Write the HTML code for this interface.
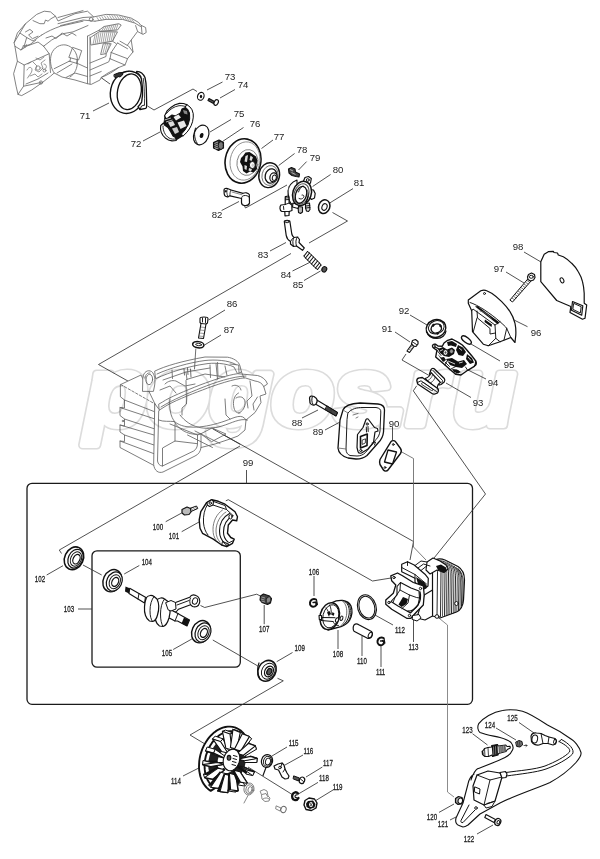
<!DOCTYPE html>
<html><head><meta charset="utf-8"><title>Parts diagram</title>
<style>
html,body{margin:0;padding:0;background:#fff;}
svg{display:block}
.t{font-family:"Liberation Sans",sans-serif;font-size:9.6px;fill:#222;text-anchor:middle}
.c{font-family:"Liberation Sans",sans-serif;font-size:8.8px;fill:#222;text-anchor:middle;stroke:#222;stroke-width:.3px}
.l{stroke:#333;stroke-width:.85;fill:none}
.p{stroke:#111;stroke-width:1.15;fill:#fff;stroke-linejoin:round;stroke-linecap:round}
.pn{stroke:#111;stroke-width:.95;fill:none;stroke-linejoin:round;stroke-linecap:round}
.g{stroke:#666;stroke-width:.85;fill:none;stroke-linejoin:round;stroke-linecap:round}
.gw{stroke:#666;stroke-width:.85;fill:#fff;stroke-linejoin:round;stroke-linecap:round}
.h{stroke:#6c6c6c;stroke-width:.85;fill:none;stroke-linejoin:round;stroke-linecap:round}
.hw{stroke:#6c6c6c;stroke-width:.85;fill:#fff;stroke-linejoin:round;stroke-linecap:round}
.k{fill:#111;stroke:none}
</style></head><body>
<svg width="600" height="859" viewBox="0 0 600 859">
<rect width="600" height="859" fill="#fff"/>
<!--WATERMARK-->
<!--FRAMES-->
<rect x="27" y="483.300" width="445.500" height="221" rx="5" class="l" style="stroke:#1a1a1a;stroke-width:1.300"/>
<rect x="92" y="550.800" width="148.300" height="116.400" rx="5" class="l" style="stroke:#1a1a1a;stroke-width:1.300"/>
<!--LINES-->
<g class="l" id="lines">
<path d="M94 72.5L110 84"/>
<path d="M93 111L109 103"/>
<path d="M147.5 106L154 110L193 89L197 91.5"/>
<path d="M143 141L160 132"/>
<path d="M222.5 82L207 90"/>
<path d="M235 89.5L220 98"/>
<path d="M231 119.5L210 132"/>
<path d="M243.5 127.5L222.5 141.5"/>
<path d="M273 140L261.500 148.500"/>
<path d="M294.600 153.500L278.700 165.500"/>
<path d="M306.600 161.600L298.500 170"/>
<path d="M330.600 174.500L312.600 186.500"/>
<path d="M353 188.600L329.700 203"/>
<path d="M221.600 210.500L239 201.500"/>
<path d="M244 205L245.500 208L287 185"/>
<path d="M332.500 212.500L347.500 221L309 243"/>
<path d="M270 251L286 242.500"/>
<path d="M292.500 271L309.500 262.500"/>
<path d="M304 280.500L320.500 271"/>
<path d="M291 253.500L98.500 364.500L413.500 541.500L410 560"/>
</g>
<g class="l" id="lines2">
<path d="M225 310L208.500 320"/>
<path d="M221 335L204.500 345"/>
<path d="M302 418L318 410"/>
<path d="M325 430L340 422"/>
<path d="M392.500 427L392.500 440"/>
<path d="M400 451L413.500 458.500L413.500 547L426 560" style="stroke:#666"/>
<path d="M395 332L410 342"/>
<path d="M410 315L427 325"/>
<path d="M406 354L402 360L430 376"/>
<path d="M416.700 385.800L413.300 390.800L485.500 494L430 563"/>
<path d="M471 397.500L446 383"/>
<path d="M486 379L468 370"/>
<path d="M500 361L471 344"/>
<path d="M527.500 326.700L514 320"/>
<path d="M506 272L524 283"/>
<path d="M524 252L541 262"/>
<path d="M246.500 470L246.500 483.500"/>
<path d="M61.500 553.500L59.300 550L240 446"/>
<path d="M46.700 575L63 565.700"/>
<path d="M83 565L101.700 575"/>
<path d="M139.300 565.500L124.200 574"/>
<path d="M165.700 521.700L181.700 513"/>
<path d="M181.700 531.700L199 522"/>
<path d="M69 609L92 609" style="stroke:none"/>
<path d="M78 609L92 609"/>
<path d="M225.800 500.800L228.300 499.700L372.500 581L391 578"/>
<path d="M200.500 605.500L204.700 607.500L256.700 594.200L260 595.800"/>
<path d="M264.200 605L264.200 624.200"/>
<path d="M173.200 649.500L191.800 639"/>
<path d="M212.800 640L257.500 665.800"/>
<path d="M292.500 652.500L276.700 661.700"/>
<path d="M277.500 678.300L283.300 680.800L190 735L205 744"/>
<path d="M314 576L314 596"/>
<path d="M338 630L338 649"/>
<path d="M362 636L362 656"/>
<path d="M381 646L381 667"/>
<path d="M375 615L393 625"/>
<path d="M413.500 620L413.500 642"/>
<path d="M183 776L200 767.400"/>
<path d="M248 767L293 795"/>
<path d="M287 747L272 756"/>
<path d="M303 755L285 765"/>
<path d="M322.400 767L306 777"/>
<path d="M318 782.400L299 793.600"/>
<path d="M333 790L315 801"/>
<path d="M437 616.500L447.500 625L447.500 792L454 797" style="stroke:#777"/>
<path d="M439 812.400L454 804"/>
<path d="M450 820L456 817"/>
<path d="M477 834L493 825"/>
<path d="M472.500 733.700L487.500 745"/>
<path d="M496 728L516 740"/>
<path d="M519 722.500L535 733.700"/>
</g>
<!--LABELS-->
<g class="c" id="labels2">
<text x="158" y="530.500" transform="translate(158 0) scale(.7 1) translate(-158 0)">100</text>
<text x="174" y="539.500" transform="translate(174 0) scale(.7 1) translate(-174 0)">101</text>
<text x="40" y="582" transform="translate(40 0) scale(.7 1) translate(-40 0)">102</text>
<text x="69" y="612.500" transform="translate(69 0) scale(.7 1) translate(-69 0)">103</text>
<text x="146.800" y="565" transform="translate(146.8 0) scale(.7 1) translate(-146.8 0)">104</text>
<text x="167" y="656.500" transform="translate(167 0) scale(.7 1) translate(-167 0)">105</text>
<text x="314" y="575.500" transform="translate(314 0) scale(.7 1) translate(-314 0)">106</text>
<text x="264.200" y="632.500" transform="translate(264.2 0) scale(.7 1) translate(-264.2 0)">107</text>
<text x="338" y="657" transform="translate(338 0) scale(.7 1) translate(-338 0)">108</text>
<text x="299.700" y="651.500" transform="translate(299.7 0) scale(.7 1) translate(-299.7 0)">109</text>
<text x="362" y="664" transform="translate(362 0) scale(.7 1) translate(-362 0)">110</text>
<text x="380.600" y="675" transform="translate(380.6 0) scale(.7 1) translate(-380.6 0)">111</text>
<text x="400" y="633" transform="translate(400 0) scale(.7 1) translate(-400 0)">112</text>
<text x="413.500" y="650.500" transform="translate(413.5 0) scale(.7 1) translate(-413.5 0)">113</text>
<text x="176" y="784" transform="translate(176 0) scale(.7 1) translate(-176 0)">114</text>
<text x="293.600" y="746.500" transform="translate(293.6 0) scale(.7 1) translate(-293.6 0)">115</text>
<text x="308.400" y="754.500" transform="translate(308.4 0) scale(.7 1) translate(-308.4 0)">116</text>
<text x="328" y="766" transform="translate(328 0) scale(.7 1) translate(-328 0)">117</text>
<text x="324" y="781.500" transform="translate(324 0) scale(.7 1) translate(-324 0)">118</text>
<text x="337.600" y="790" transform="translate(337.6 0) scale(.7 1) translate(-337.6 0)">119</text>
<text x="432" y="820.500" transform="translate(432 0) scale(.7 1) translate(-432 0)">120</text>
<text x="443" y="827.500" transform="translate(443 0) scale(.7 1) translate(-443 0)">121</text>
<text x="469" y="842.500" transform="translate(469 0) scale(.7 1) translate(-469 0)">122</text>
<text x="467.500" y="733" transform="translate(467.5 0) scale(.7 1) translate(-467.5 0)">123</text>
<text x="490" y="728" transform="translate(490 0) scale(.7 1) translate(-490 0)">124</text>
<text x="512.500" y="721.500" transform="translate(512.5 0) scale(.7 1) translate(-512.5 0)">125</text>
</g>

<g class="t" id="labels" transform="translate(1 -1)">
<text x="84" y="120">71</text>
<text x="135" y="148">72</text>
<text x="229" y="81">73</text>
<text x="242" y="89">74</text>
<text x="238" y="118">75</text>
<text x="254" y="128">76</text>
<text x="278" y="141">77</text>
<text x="301" y="154">78</text>
<text x="314" y="162">79</text>
<text x="337" y="174">80</text>
<text x="358" y="187">81</text>
<text x="216" y="219">82</text>
<text x="262" y="259">83</text>
<text x="285" y="279">84</text>
<text x="297" y="289">85</text>
<text x="231" y="308">86</text>
<text x="228" y="334">87</text>
<text x="296" y="427">88</text>
<text x="317" y="436">89</text>
<text x="393" y="428">90</text>
<text x="386" y="333">91</text>
<text x="403" y="315">92</text>
<text x="477" y="407">93</text>
<text x="492" y="387">94</text>
<text x="508" y="369">95</text>
<text x="535" y="337">96</text>
<text x="498" y="273">97</text>
<text x="517" y="251">98</text>
<text x="247" y="467">99</text>
</g>
<!--PARTS-->
<!--BODY-->
<g id="body" class="h">
<path class="hw" d="M14.200 42.500L17.400 33L25.500 23.700L36.700 14.400L44.200 11.200L50.500 11.900L55.500 16.200L58 21L75 13.700L87.500 11.200L93.700 16.900L106.200 14.400L118.700 15L131.200 18.100L138.700 22.500L140.500 25L145.600 27.500L146.200 32.500L143 34.400L137.500 31.500L131.200 40L133 51.900L127.500 58.700L125 65L118.700 67.500L108 73L101.200 77.500L100 80L91.200 84.400L87.500 83.700L75 80L62 77L54.200 73L50.500 76.200L42.400 82.500L31.700 90L21.700 95.600L18 94.400L16.100 86.200L13.600 73.700L17.400 61.200L14.900 46.200Z"/>
<!-- hood -->
<path d="M33 20.600L39.900 23.700L44.200 23.700L45.500 20L48 21.200L51 18.700L55.500 16.200"/>
<path d="M14.200 42.500L19.900 33L26.700 37.500L24.200 46.200L21 50L14.900 46.200"/>
<path d="M19.900 33L25.500 23.700M25.500 31.900L29.900 29.400L33 31.900L28.600 35L32.400 38.700L38 36.200"/>
<path d="M26.700 37.500L33 41L41.700 35"/>
<path d="M21 50L27 46L38 42L43.600 46.200"/>
<path d="M24.200 46.200L30 44.500L36 40"/>
<path d="M22 48.500L23.500 45L25 47.500L26.500 44.500" stroke-width=".6"/>
<!-- handle -->
<path d="M58 17.500L83 10.600M58 23.700L83 17.500L93.700 16.900M60.500 25.600L83 20L95 21.200"/>
<path d="M41.700 35C46 32 55 28 60.500 26.200L83 21.200"/>
<path d="M43.600 46.200L51.700 40L63 33.700L73 31.900L88 25.500"/>
<path d="M46 38L52 36L56 38.500L62 33"/>
<path d="M63 33.700L67 36L72 33L76 35.500"/>
<circle cx="91.200" cy="19.400" r="1.900"/>
<!-- top cover -->
<path d="M95 21.200L106.200 19.400L122.500 19.400L135 23.100L140.500 26.500"/>
<g stroke-width=".6">
<path d="M97 17.500L99 20.500M99.500 17L101.500 20M102 16.600L104 19.600M104.500 16.200L106.500 19.200M107 15.900L109 18.900M109.500 15.700L111.500 18.700M112 15.600L114 18.600M114.500 15.600L116.500 18.600M117 15.700L119 18.700M119.500 16L121.500 19M122 16.500L124 19.500M124.500 17L126.500 20M127 17.800L129 20.800M129.500 18.600L131.500 21.600M132 19.500L134 22.500"/>
</g>
<!-- grilles -->
<path d="M99.400 30L104 26.500L118.700 23.700L121.200 25L117.500 30L100 31.200Z"/>
<path d="M90.600 37.500L99.400 31.500L117.500 31.900L112.500 41.200L91.200 45Z"/>
<path d="M103.700 43.700L111.200 43.700L106.200 53.700L101 54.500Z"/>
<g stroke-width=".6">
<path d="M102 30.500L104 27M104 30.400L106 26.600M106 30.300L108 26.200M108 30.200L110 25.800M110 30.100L112 25.400M112 30L114 25M114 29.900L116 24.600M116 29.800L118 24.300"/>
<path d="M93 44.500L95 35M95 44.200L97 33.700M97 43.900L99 32.500M99 43.600L101 32M101 43.200L103 32M103 42.900L105 32M105 42.500L107 32M107 42.200L109 32M109 41.800L111 32M111 41.500L113 32M113 40.500L115 32"/>
<path d="M103 53L105.500 44M105 53.300L107.500 44M107 52L109.500 44"/>
</g>
<!-- right guard -->
<path d="M135.600 25.600L137.500 31.200M141.300 25.500L142 33.500"/>
<path d="M120 41.200L128.700 46.200L133 51.900M117.500 43L127.500 48.700M127.500 45L131.200 40M112.500 41.200L116 43.500"/>
<path d="M111.200 52.500L127.500 58.700M110 58.700L125 65M111.200 52.500L110 58.700M111.200 52.500L117.500 43"/>
<!-- central box -->
<path d="M87.500 36.200L87.500 83.700M90 37L90 84"/>
<path d="M87.500 36.200L99.400 30"/>
<path d="M90 70L108.700 61.900L110 58.700M90 63L106 56.500L106.200 53.700M90 76L101.200 71.500"/>
<path d="M101.200 77.500C108 75 114 71 118.700 67.500"/>
<!-- center disc -->
<path d="M54.200 73C50.500 68 49.500 60 51.500 53.700C54 47.500 60 44 66 45C73 46.500 77.500 53 77.500 61C77.500 68 75 74 70 77"/>
<path d="M73 47.500L81.700 50.600L78.600 60L69.200 57.500Z"/>
<path d="M69.200 61.200L78 63.700L87.500 68M54.200 68.700L69.200 61.200M57 73L72 64"/>
<path d="M70.500 58L70 61.500M77 60L76.500 63.500" />
<path d="M66 77.500L75 73L87.500 76.500"/>
<!-- lower-left box -->
<path d="M17.400 61.200L24.200 65L23.600 86.200L18 94.400M24.200 65L49.200 53.700L50.500 72.500M23.600 86.200L41 82.500"/>
<path d="M49.200 53.700L43.600 46.200"/>
<circle cx="41" cy="82.500" r="1.600"/>
<path d="M26 84L38 79L48 73" />
<g stroke-width=".7">
<path d="M27 70C29 66 32 67 32 70C32 73 29 75 27.500 78M33 62L37 66L35 70L39 72L43 68L41 63L45 60"/>
<path d="M30 76L35 74L38 77L42 74M36 58L40 60L44 57M28 64L31 62M44 64C46 64 47 66 46 68C45 70 43 70 42 68"/>
<circle cx="38" cy="68" r="2.200"/><circle cx="44.500" cy="70.500" r="1.500"/>
</g>
</g>
<!--/BODY-->
<!--A-->
<g id="p71">
<ellipse class="p" cx="127.800" cy="92.300" rx="17.300" ry="21.300" transform="rotate(12 127.8 92.3)" style="stroke-width:1.400"/>
<ellipse class="p" cx="129.300" cy="91.800" rx="11.800" ry="18" transform="rotate(11 129.3 91.8)" style="stroke-width:1.300"/>
<path class="p" style="stroke-width:1.300" d="M136.700 71.300C140 71.500 143.500 74 145 77.500C146 82 146.300 85 146.300 88.300L146.700 105C146.700 107 146.300 108 145.800 108.300L140 109.500L138 106.700C140 104.500 141.300 103 141.700 101.700C142.500 97 142.700 93 142.500 90C142.300 85 141.800 80 140.800 76.700C139.500 74.500 138 73 136.500 72.500Z"/>
<path class="pn" d="M143.300 78.300C144.300 86 144.700 96 144.500 105" style="stroke-width:.8"/>
<path class="pn" d="M140 109.500L141.500 106L144.500 105"/>
<path class="p" style="stroke-width:1;fill:#333" d="M114.300 74.500L119.500 72.500L123 73L122.500 75L120 77L118 76.500L116.500 78L114.500 77Z"/>
<path class="pn" d="M121 72.700L129 71.300"/>
</g>
<g id="p72" transform="translate(0 .500)">
<path class="k" d="M164.500 115.400L167 110.500L171.200 106.700L175 104.300L179.500 102.900L183.500 103L187 104.200L190 106.500L192 109.200L193.200 113L193.250 116.700L192.600 121L191.200 125L189.300 128.500L187 131.700L182.800 135.800L176.200 140L172 140.400L168.500 139.500L165.300 137.500L163 135L161.200 131.700L160.500 128.500L160.750 125L163.500 122.500Z"/>
<!-- upper shoe face -->
<path class="p" style="stroke-width:1.100" d="M164.500 115.400L167 110.500L171.200 106.700L175 104.300L179.500 102.900L183.500 103L187 104.200L185.500 107L182 108.500L180.500 112.500L175.500 115.500L172 114.500L166.500 118.500Z"/>
<path class="pn" d="M166.500 113C169.500 109 174 106 179 105.200C182 105 184.500 105.500 186.500 106.500" style="stroke-width:.9"/>
<!-- upper shoe rim right -->
<path class="p" style="stroke-width:1" d="M187 104.200L190 106.500L192 109.200L193.200 113L193.250 116.700L192.600 121L191.200 125L189.300 128.500L187 131.700L182.800 135.800L181.500 133.500L185 129.500L188 124.500L189.700 118.500L189.500 112.500L187.500 108.500L185.500 107Z"/>
<!-- lower shoe -->
<path class="p" style="stroke-width:1.100" d="M160.750 125L160.500 128.500L161.200 131.700L163 135L165.300 137.500L168.500 139.500L172 140.400L176.200 140L175.500 137L173 135.500L170.500 131L168 127L164.500 124.500L163.500 122.500Z"/>
<path class="pn" d="M163 125.500C162.800 130 165 135 169 137.500C171 138.500 173.500 139 175.500 138.500" style="stroke-width:.9"/>
<!-- hub light patches -->
<path d="M173.500 116.500L178.500 114L181 117L176 120Z" fill="#eee"/>
<path d="M177.500 122L184 120L186.500 125.500L180.500 128.500Z" fill="#e8e8e8"/>
<path d="M168 122L173 120.500L175 124.500L170.500 126.500Z" fill="#ddd"/>
<path d="M172 128L177 126.500L179 131.500L175 133.500Z" fill="#ccc"/>
<path d="M183 109.500L187 110.500L187.500 114L184 113Z" fill="#888"/>
<path d="M164.500 119.500L171 117.500M166 121.500L172.500 119.500" stroke="#fff" stroke-width=".7"/>
</g>
<g id="p73">
<ellipse class="p" cx="200.800" cy="96.300" rx="3.200" ry="4" transform="rotate(20 200.8 96.3)" stroke-width="1.1"/>
<ellipse cx="201" cy="96.500" rx="1.200" ry="1.700" class="k"/>
</g>
<g id="p74">
<path class="p" d="M209 98.500L214.500 101.500L213.500 103.500L208 100.500Z" style="fill:#555"/>
<ellipse class="p" cx="216.200" cy="102.500" rx="2" ry="3" transform="rotate(25 216.2 102.5)" stroke-width="1.100"/>
</g>
<g id="p75">
<ellipse class="p" cx="201.200" cy="135" rx="7.300" ry="10.200" transform="rotate(22 201.2 135)" stroke-width="1.300"/>
<ellipse cx="201.600" cy="135.500" rx="1.800" ry="2.600" transform="rotate(22 201.6 135.5)" class="k"/>
<path class="pn" d="M195.500 128C193.500 133 194.500 141 198.500 145"/>
</g>
<g id="p76">
<path class="p" style="fill:#2a2a2a;stroke-width:1.100" d="M213.500 142.500L219 140L223.500 142.500L223.500 148L218.500 150.500L213.500 148Z"/>
<ellipse cx="220.800" cy="145.500" rx="2.600" ry="3.800" class="p" style="fill:#777;stroke-width:.9"/>
<path d="M214.500 143.500L218 142M214.500 145.500L218 144M214.500 147.500L218 146M215 149L218.500 148" stroke="#ddd" stroke-width=".7"/>
</g>
<!--/A-->
<!--B-->
<g id="p77">
<ellipse class="p" cx="243" cy="161" rx="17.800" ry="22.300" transform="rotate(11 243 161)" style="stroke-width:1.600"/>
<ellipse class="g" cx="245" cy="161" rx="14.800" ry="19.300" transform="rotate(11 245 161)" style="stroke:#888"/>
<ellipse class="g" cx="247.500" cy="162.500" rx="10.500" ry="13" transform="rotate(11 247.5 162.5)" style="stroke:#777"/>
<path class="k" d="M243 156L245.500 152.500L249.500 152L252.500 154L256 156.500L257.500 160.500L256.500 165L257 169L253.500 172.500L250 171.500L246.500 173.500L243 171L242.500 166.500L240 162L241 158Z"/>
<path d="M245.500 156L248 155L247 162L244.500 161.500ZM250.500 155.500L253 157.500L251.500 161L249.500 160ZM244.500 165L247 166L246.500 170L244.500 169ZM249 168L252 169L251 171.500L248.500 170.500Z" fill="#ddd"/>
<ellipse cx="252.300" cy="165" rx="2.900" ry="3.500" fill="#fff" stroke="#111" stroke-width=".9"/>
<ellipse cx="252.800" cy="165.200" rx="1.300" ry="1.700" fill="#ccc"/>
</g>
<g id="p78">
<ellipse class="p" cx="269.200" cy="175.200" rx="10.300" ry="12.500" transform="rotate(12 269.2 175.2)" style="stroke-width:1.4"/>
<ellipse class="g" cx="270" cy="175.500" rx="8" ry="10" transform="rotate(12 270 175.5)"/>
<ellipse class="p" cx="271" cy="176" rx="5.800" ry="7.200" transform="rotate(12 271 176)" style="stroke-width:1.3"/>
<ellipse class="p" cx="273.500" cy="177.300" rx="3.600" ry="4.500" transform="rotate(12 273.5 177.3)" style="stroke-width:1.2"/>
<ellipse class="pn" cx="274.300" cy="177.700" rx="2" ry="2.700" transform="rotate(12 274.3 177.7)"/>
</g>
<g id="p79">
<path class="p" style="fill:#444" d="M288.500 169L291.500 167.500L295 169L295.500 172L299.500 174L299 177L296 176.500L292 175.500L289 173Z"/>
<path d="M290 169.500L293 171M291.500 172.500L295.500 174.500" stroke="#ddd" stroke-width=".7"/>
</g>
<g id="p80">
<!-- back cylinder -->
<path class="p" style="stroke-width:1.100" d="M297 180C292 182 288.500 186 288 191L289 200L291 203.500L297 205Z"/>
<!-- lugs -->
<path class="p" style="stroke-width:1.200" d="M303.500 181L305 177.500L308.500 176.500L311.300 178.500L310.500 183L307.500 185Z"/>
<path class="p" style="stroke-width:1.200" d="M310 189.500L313.500 190L315.200 193.500L314.500 198L311.500 199.500L309 197Z"/>
<circle cx="307.800" cy="180" r="1.400" class="pn"/>
<!-- lower bosses -->
<path class="p" style="stroke-width:1.100;fill:#ddd" d="M305.500 203.500L309.500 203L310 209.500L308.500 211.500L306.500 211L305.500 208Z"/>
<path class="pn" d="M306 206L309.800 205.500M306 208L310 207.500"/>
<path class="p" style="stroke-width:1.100;fill:#bbb" d="M298 206.500L302.500 207L302.500 212L300.500 213.500L298.500 212.500Z"/>
<path class="p" style="stroke-width:1.100" d="M293 203L299 205L298 208.500L292.500 207Z"/>
<!-- front ring -->
<ellipse class="p" cx="302" cy="193.400" rx="9.200" ry="12.300" transform="rotate(18 302 193.400)" style="stroke-width:1.500"/>
<ellipse class="p" cx="301.500" cy="194" rx="7.300" ry="10.500" transform="rotate(18 301.500 194)" style="stroke-width:1;stroke:#555"/>
<ellipse class="p" cx="301" cy="194.800" rx="5.400" ry="8.700" transform="rotate(18 301 194.800)" style="stroke-width:1.300"/>
<path class="k" d="M305 202C307.500 198.500 308.300 193.500 307.300 189C309.500 193 309 199.500 306 203.500Z"/>
<path class="pn" d="M298.500 192C299.500 189 301 187 303 186M299 198.500C300.500 199.500 302.500 199 303.500 197.500C304.500 196 303.500 194.500 302 195" style="stroke-width:.9"/>
<!-- pipe assembly -->
<path class="p" style="stroke-width:1.200" d="M285.300 196.500L288.800 196.200L289.200 203L291.800 205L292 210.500L289.200 211.500L289 215.500L285 215.800L284.800 211.500L281.500 211.300C279.800 210.500 279.300 206.500 281 205L285.200 204.500Z"/>
<path class="pn" d="M285.200 198L289 197.800M285.200 199.800L289 199.500M285.200 204.500L289.200 203M284.800 211.500L289.200 211.500M283.500 206.500L283.800 209.500"/>
<path class="g" d="M289 186.500L287.500 196.500"/>
</g>
<g id="p81">
<ellipse class="p" cx="324.200" cy="206.700" rx="5.600" ry="7" transform="rotate(20 324.2 206.7)" style="stroke-width:1.500"/>
<ellipse class="p" cx="324.500" cy="207" rx="2.500" ry="3.400" transform="rotate(20 324.5 207)" style="stroke-width:1.100"/>
</g>
<g id="p82">
<path class="p" style="stroke-width:1.200" d="M224 190C224 188.500 226 188 227.500 188.500L231 190L243 193.300C245 192.300 248 192.600 249.300 194.500L249.500 203C249 205 246.500 205.800 244.500 205.500C242.500 205.300 241.500 204 241.500 202.500L241.500 198.500L230 195.800L228 196.800C226 197 224.500 195.700 224.200 194Z"/>
<path class="pn" d="M241.500 198.500C241.500 196.500 243 195.300 245.500 195.500C247.500 195.700 249 196.500 249.400 197.500"/>
<path class="pn" d="M231 190C230 191.500 229.800 194 230 195.800M227.500 188.500C226.500 190.500 226.500 194 228 196.800" style="stroke-width:.8"/>
<path class="k" d="M224.500 190.500L226.500 190L226.800 192L224.800 192.500Z"/>
<path class="pn" d="M232 192L242 194.800" style="stroke-width:.7;stroke:#555"/>
</g>
<g id="p83">
<path class="p" style="stroke-width:1.200" d="M284.300 221.500C284.300 219.800 289.900 219.800 289.900 221.500L291.800 234C292.200 235.800 293 236.800 294 237.500L297.500 237L299.500 239.500L299 242.500L304.300 248L302.500 250.300L296.500 246L293.500 246.500L290.500 244L290.500 241.500C288 240 286.700 238 286.200 235.300Z"/>
<ellipse class="pn" cx="287.100" cy="221.700" rx="2.100" ry="1"/>
<path class="pn" d="M294 237.500C292.500 239.500 292.500 243 293.500 246.500M297.500 237C295.500 239 295.500 243 296.500 246M290.500 241.500L292.500 238.500"/>
</g>
<g id="p84">
<path class="pn" style="stroke-width:1.100" d="M304 256L307.500 251.500M305.500 258L309.500 253M307.500 260L311.500 255M309.500 262L313.500 257M311.500 264L315.500 259M313.500 266L317.500 261M315.500 268L319.500 263M317.500 269.500L321 265"/>
<path class="pn" d="M304 256L305.500 258M307.500 251.500L309.500 253M305.500 258L307.500 260M309.500 253L311.500 255M307.500 260L309.500 262M311.500 255L313.500 257M309.500 262L311.500 264M313.500 257L315.500 259M311.500 264L313.500 266M315.500 259L317.500 261M313.500 266L315.500 268M317.500 261L319.500 263M315.500 268L317.500 269.500M319.500 263L321 265"/>
</g>
<g id="p85">
<ellipse cx="324.300" cy="269.300" rx="2.300" ry="2.800" class="p" style="fill:#555;stroke-width:1.100" transform="rotate(30 324.3 269.3)"/>
</g>
<!--/B-->
<!--C-->
<g id="p86">
<path class="p" style="stroke-width:1.100" d="M200 318.500C200 316.500 208 316.500 208 318.500L207.500 323L206 324L203.500 338.500L198.500 338L201 323.500L200 322.500Z"/>
<path class="pn" d="M201 323.500L206 324M202.500 318L202.500 322M205.500 318L205.500 322.500"/>
<path d="M200.500 327L205 327.500M200 330L204.500 330.500M199.500 333L204 333.500M199 336L203.500 336.500" stroke="#555" stroke-width=".6"/>
</g>
<g id="p87">
<ellipse class="p" cx="198.300" cy="344.700" rx="5.700" ry="3.100" transform="rotate(8 198.3 344.7)" style="stroke-width:1.500"/>
<ellipse class="p" cx="198.600" cy="344.500" rx="3" ry="1.200" transform="rotate(8 198.6 344.5)" style="stroke-width:.9"/>
</g>
<g id="crankcase" class="g">
<path d="M120.700 384.500L141 375L143 371L148 369.500L153 371.500L155 371L182.500 361L205 357L227.500 357.200L238.700 361L241.500 372L257.500 375.500L267.500 384L266 394L261 402.500L255 412.500L246 420L245 430L238 436L226 434L212 441.500L201 447.500L195 456L163 472L153.700 465L120 447.500Z" fill="#fff" stroke="none"/>
<!-- left face -->
<path class="gw" d="M120.700 384.500L141 375L155 404L155 466L120 447.500L120 441L124.500 441.500L124.500 435L120 432L120 425L124.500 426L124.500 419L120 415.500L120 407.500L124.500 408L124.500 400L120.700 397Z"/>
<path d="M120 407.500L154 418.700M124.500 419L154 428.700M120 425L154 435M124.500 435L154 445M120 441L154 453.700M124.500 400L154 411.500"/>
<path d="M120.700 384.500L155 404" stroke-dasharray="2.500 1.800"/>
<circle cx="123" cy="421" r=".8"/>
<!-- lug -->
<path class="gw" d="M142.500 391L142.800 378C143.500 371.500 148 369.500 151.500 371.500C155 374 155.500 381 154.500 386L153.500 391Z"/>
<ellipse class="gw" cx="149.300" cy="379.500" rx="3.300" ry="5.200" transform="rotate(5 149.300 379.500)"/>
<path d="M145 378C145.500 374 148 372.500 150 373"/>
<!-- rear bar -->
<path class="gw" d="M155 371C165 366 182.500 361 205 357L227.500 357.200C233 358 238.700 361 240 366L241.500 372L237.500 373.700L234 367C226 363 212.500 362.500 205 364C190 366 170 372 156 378.500Z"/>
<path d="M157 374C170 368 190 362.500 205 360.500C215 359.500 228 360 236 364.500"/>
<!-- front bar -->
<path class="gw" d="M159 404L162.500 402C170 397 185 391 200 385C215 379.500 228 375 237.500 373.700L257.500 375.500C262 376.500 266 379.500 267.500 384L263.700 386.500C262 383 259 381.500 255 381L245 377.800C235 378.500 215 385 202.500 390C190 394.500 172 402 165 406.500L159.500 410Z"/>
<path d="M161 407C172 400 190 392.500 201 388C215 382.500 232 376.500 246 376"/>
<!-- front frame -->
<path class="gw" d="M155 404L159.500 410L158.700 411L157.500 461C158 464 160 466 162.500 466L193.700 451C196 449.500 197.500 447 197.500 443.700L197.500 435L201 433.700L201 447.500C200.500 451.500 198.500 454.500 195 456L163 472C158.500 473.500 154.500 471 153.700 465Z"/>
<!-- right body -->
<path d="M263.700 386.500L266 394L260 396L261 402.500L255 412.500L246 420L245 430L238 436L230 439L215 444L201 447.500"/>
<path d="M236 398C240 395.500 244.500 397 245 402C245.500 407 242.500 412 238.500 413"/>
<path d="M238.500 393C234 395 232.500 402 234 408C235 412 237.500 413.500 240 413"/>
<path d="M241.500 372L244 378M225 366L227 375.500M216 363.500L217.500 379"/>
<path d="M186 372L187 379.500M172 370L172.500 378.500"/>
<!-- bowl interior -->
<path d="M170 399C169 408 170.500 417 175 422C185 430 205 428 225 421C235 417.500 242 413 246 420"/>
<path d="M158.700 420C163 422 170 421 174 421.500"/>
<path d="M174 421.500C180 432 192 436 201 433.700"/>
<path d="M186 380.500L186.500 404L182 408L182 415"/>
<path d="M201 433.700L212 428L226 434L212 441.500Z"/>
<path d="M197.500 435L170 424"/>
<path d="M162.500 466L162.500 448L175 441L197.500 443.700"/>
<path d="M175 441L175 424"/>
<path d="M160 390L170 386L176 393"/>
<path d="M163 380L186 372L210 368"/>
<path d="M165 384C168 381 172 380 176 381L185 386L195 384"/>
<path d="M186.500 379.500L205 374L225 377"/>
<path d="M210 365L210.500 377.500M217.500 362.500L218 376M230 364L238.700 365L239 372.500"/>
<path d="M180 415C190 428 205 431 222 426C232 423 240 418 247.500 420"/>
<path d="M187.500 435L212.500 447.500M195 431L220 443.500"/>
<path d="M232 386C236 384 240 386 241 390M225 399L226 415L230 419"/>
<path d="M250 381L252 396L247 401L248 408"/>
<path d="M257.500 397L253 404L254 410"/>
<!-- small screws -->
<path d="M184 369L184.500 375M187.500 368L188 374.500M190.500 369L191 377" stroke="#555"/>
<path d="M195.800 349L194.500 369" stroke="#555"/>
<path d="M213 429L240 444.200" stroke="#333"/>
</g>
<!--/C-->
<!--D-->
<g id="p88">
<path class="p" style="stroke-width:1.100" d="M316 399.500L337.500 412.500L336 416L314.500 403.500Z"/>
<path class="p" style="fill:#444;stroke-width:1" d="M327 406L337.500 412.500L336 416L325.500 409.800Z"/>
<path class="p" style="stroke-width:1.200" d="M309.500 398C309.500 396 312 395.500 314 396.500L316.500 398.500C317.500 400 317 402.500 316 404L314.500 405C313 405.500 311 404.500 310 403Z"/>
<path class="pn" d="M312.500 396.500C311.500 398.500 311.500 402 313 404.500"/>
</g>
<g id="p89">
<path class="p" style="stroke-width:1.300" d="M343 410C345 405 352 403.500 360 403L378 404C382 404.500 384.500 406.500 384.500 410L383.500 432C383 437 381 440 378.500 442.500L367 455.500C364 458 360 459 356 459L348 458C343 456.500 338.500 453 338 448L340 420Z"/>
<path class="pn" d="M348 413C351 408.500 358 407.500 362 407.500L376 407.500C379.500 408 381 409.500 380.800 412L380 431C379.500 435 378 437.500 376 439.500L365.500 452.500C363 455 360 456 357 456L350 455.500C347.500 454.500 346 452.500 346 449L347 420Z" stroke="#555"/>
<path class="p" style="stroke-width:1.200" d="M366 419.500C366.500 418.500 368 418.500 368.500 419.500L374.500 427.500L377.500 428.500L378 431L375 432L373.500 442.500L368 449L361.500 453C360 453.500 358.500 453 358 451.500L357 447.500L357.500 434.500L363 427.500Z"/>
<path class="p" style="stroke-width:1.600" d="M360.500 436.500L367.300 434L367 445.500L360.500 448Z"/>
<path class="pn" d="M362.500 440L365.500 438.800L365.300 443L362.500 444.300Z" style="stroke-width:.8"/>
<circle cx="367.200" cy="424" r="1.100" class="pn"/>
<circle cx="360.800" cy="450.500" r="1.100" class="pn"/>
<path class="pn" d="M366.300 427L366.500 432M368 426.500L368.200 431.500"/>
<path class="pn" d="M372 443L375.500 442L374.500 445"/>
<path class="g" d="M353 415L358 413.500M356 418L358 417"/>
<path class="g" d="M343 410L348 413M338 448L346 449"/>
</g>
<g id="p90">
<path class="p" style="stroke-width:1.400" d="M391 441.700C392 440.200 394.500 440.200 395.500 441.700L400.500 448.500C401.500 450 401.500 452 400.500 453.500L388 470C387 471.500 384.500 471.500 383.500 470L380 464.500C379.500 463 379.500 461 380 459.500Z"/>
<path class="p" style="stroke-width:1.300" d="M388 450L396.500 452L392.500 464L384.500 462Z"/>
<circle cx="393.300" cy="444.500" r=".9" class="pn"/>
<circle cx="385" cy="467.500" r=".9" class="pn"/>
</g>
<!--/D-->
<!--E-->
<g id="p91">
<path class="p" style="stroke-width:1.100" d="M412 344L414.500 346L409.500 352.500L407 351Z"/>
<path d="M411 346L413 347.500M410 347.500L412 349M409 349L411 350.500" stroke="#333" stroke-width=".6"/>
<path class="p" style="stroke-width:1.200" d="M412.500 340.500L415.500 339.500L418 341.500L418 344L416 346.500L413.500 346L411.500 344Z"/>
<path class="pn" d="M413.500 342.500L416.500 344.500"/>
</g>
<g id="p92">
<ellipse class="p" cx="436" cy="328.500" rx="10" ry="8.800" transform="rotate(-20 436 328.500)" style="stroke-width:1.400"/>
<path class="pn" d="M427 332C428 336 432 338.500 437 338.500C442 338.500 445.500 335 446 331" style="stroke-width:1.200"/>
<ellipse class="pn" cx="436.300" cy="327.300" rx="8" ry="6.500" transform="rotate(-20 436.3 327.3)" stroke="#555"/>
<ellipse class="p" cx="436.300" cy="328.500" rx="5.300" ry="4.500" transform="rotate(-20 436.3 328.5)" style="stroke-width:1.300"/>
<path class="k" d="M431.500 326L433 323.500L435 324.500L433.500 327ZM440 324L442 326L440.500 327.500L439 326ZM437 332L439 333L438 335L436 334Z"/>
</g>
<g id="p95">
<ellipse class="p" cx="466.400" cy="340" rx="5.800" ry="2.600" transform="rotate(38 466.4 340)" style="stroke-width:1.400"/>
</g>
<g id="p94">
<path class="p" style="stroke-width:1.400" d="M447.700 340.300L452 339L458.300 342.300L462.300 345L466 349L471.700 355.700L475.700 361L475.500 364L474.300 366.300L467.700 370.300L461 375L455.700 374.300L450 369.500L445 365L435.700 357L436.500 352.500L437 350.300L433.500 348L432.500 346L434 344.300L435.700 344.300L438 346L442.300 346.300L444 343Z"/>
<path class="k" d="M438 349L443 347L447 349.500L452 347.500L455 350L454 354L449 357L444 356L440 353ZM458 345L463 347.500L466 352L463 356L458.500 355L456 350ZM446 359L452 358L458 361.500L464 360L467 364L462 368L456 367L450 365ZM467 354L472 358L474 362.500L470 364L466 359Z"/>
<path class="k" d="M447 342L452 341L457 344L456 347L451 345.500L448 346ZM437.500 354L441 357.500L444 357L446 360L443 362ZM452 369L457 369.500L461 372L458 373.500L454 372Z"/>
<ellipse cx="445.500" cy="352.500" rx="2.300" ry="2.800" fill="#fff" stroke="#111" stroke-width=".8"/>
<ellipse cx="445.500" cy="352.500" rx="1" ry="1.300" fill="#555"/>
<ellipse cx="451.500" cy="351.300" rx="1.900" ry="2.300" fill="#999" stroke="#111" stroke-width=".7"/>
<path d="M459 348L462 350.500M448 361L455 364M459 363L463 362M440 351L443 349.500M468 357L471 360.500M451 366.500L460 369.500" stroke="#fff" stroke-width=".8" fill="none"/>
<path class="pn" d="M445 365L447 361M455.700 374.300L458 370.500M467.700 370.300L465.500 367M437 350.300L441 355.500M450 369.500L464.500 362M445 362L449.500 366.500" style="stroke-width:.9"/>
<circle cx="433.800" cy="346" r="1.400" class="p" style="stroke-width:1.100"/>
<path class="pn" d="M435 347L439 349" style="stroke-width:1.300"/>
<path class="pn" d="M474.300 366.300C476.500 365.500 477 363 475.700 361" style="stroke-width:1.200"/>
</g>
<g id="p93">
<path class="p" style="stroke-width:1.300" d="M431 369.700C431.500 368.500 433 368 434.200 368.800L444.300 378.500C445 379.500 445 381 444.200 382L441 384.500C440 385 439 385 438.200 384.200L429.500 374Z"/>
<path class="pn" d="M433 370.500L442.500 380.500L442 382.500" stroke="#333"/>
<path class="p" style="stroke-width:1.100" d="M425 378.500C428.500 377.500 430.500 375 431 372.500L440.500 382.500C438.500 383.500 437 386 437.200 389.500Z"/>
<path class="pn" d="M428 380.500C430.500 379 432 377 432.500 375M430.500 383C433 381.500 434.500 379.500 435 377.500" stroke="#555" style="stroke-width:.7"/>
<path class="p" style="stroke-width:1.300" d="M416.800 380.500C416.800 379 418 378 419.500 377.800L422.300 377.500L437.700 388.500C438.500 389.500 438.500 391.500 437.500 392.800L435 394C434 394.300 433 394.200 432 393.500L417.700 384Z"/>
<path class="pn" d="M417.500 382.500L421 380.800L436.500 391.500" />
<path class="pn" style="stroke-width:.8" d="M421.500 383.500C421.500 382.500 423 382.200 424 383L432.500 389C433.500 390 433 391 431.500 390.500L422.500 385Z"/>
</g>
<g id="p96">
<path class="p" style="stroke-width:1.200" d="M468.300 300L480.800 290.800C483 290 485 290 486.700 290.800L491.700 293.300C495 295.500 498.500 298.500 501.700 301.700C505 305 508 308.500 510 311.700C512.500 315.500 514 319.500 515 323.300C515.800 327 516 331 515.800 335L515 342.500L510.800 337.500L500 341.700L488.300 345.800L483.300 344.200L472.500 331.700L471.700 310.800L468.300 303.300Z"/>
<path class="pn" d="M470 302.500C478 305 490 313 500 321.700C503 324.500 505.500 326.500 506.700 328.300L510.800 337.500"/>
<path class="pn" d="M471.700 310.800L473 309L495 325L495.800 338.300L500 341.700M495.800 338.300L488.300 345.800M495 325L500 321.700"/>
<path class="k" d="M475 306.500L477.500 306L499 322L498 324.500Z"/>
<path class="pn" d="M477 311L477.500 318L490 328.500L490 334L495.500 333"/>
<path class="k" d="M485 319.500L492 324.500L491.500 327L484.500 322Z"/>
<path class="pn" d="M506.700 328.300L504 340M473.300 331.700L477 318"/>
<path class="g" d="M480 311C484 311.500 489 315 491 318.500"/>
<circle cx="484.500" cy="293.500" r="1" class="pn"/>
</g>
<g id="p97">
<path class="p" style="stroke-width:1" d="M528.700 278.500L531.500 280.500L512.500 302L510.200 300.300Z"/>
<path d="M527 280.500L529.800 282.500M525.500 282.200L528.300 284.200M524 284L526.800 286M522.500 285.700L525.300 287.700M521 287.500L523.800 289.500M519.500 289.200L522.300 291.200M518 291L520.800 293M516.500 292.700L519.300 294.700M515 294.500L517.800 296.500M513.500 296.200L516.300 298.200M512 298L514.800 300" stroke="#222" stroke-width=".6"/>
<path class="p" style="stroke-width:1.200" d="M528.500 274.500L531.500 273L534.500 274.500L535 277.500L533.500 280L530.500 281L528 279.500L527.500 277Z"/>
<ellipse class="pn" cx="531.300" cy="276.800" rx="2" ry="1.500"/>
</g>
<g id="p98">
<path class="p" style="stroke-width:1.200" d="M544.200 254.200L548.300 251.700L553.300 251.300L554 252.500L557.500 253L558.300 255L563.300 256.700C566.500 258.500 569.500 261 571.700 263.300C574.500 266 576.800 269 578.300 271.700C580.300 275 581.800 278.500 582.500 281.700C583.500 285.500 584 289.500 584.200 293.300L584.200 303.300L586.700 305L585 318.300L582.500 319.200L570 312.500L570.800 306.500L556.700 300.500L540.800 281.700L540.800 261.700Z"/>
<path class="p" style="stroke-width:1.200" d="M572.500 301.500L582.800 305.800L581.700 315.200L571.500 310.300Z"/>
<path class="pn" d="M574 303.500L581.200 306.700L580.300 313L573.200 309.500Z"/>
<ellipse class="p" cx="562" cy="280.300" rx="1.700" ry="2.700" transform="rotate(-25 562 280.3)" style="stroke-width:1"/>
</g>
<!--/E-->
<!--F-->
<g id="p100">
<path class="p" style="stroke-width:1" d="M189.500 508.500L196.500 506L197.800 508.500L191 511.500Z"/>
<path d="M191.500 508L192.500 510.500M193.500 507.300L194.500 509.800M195.500 506.500L196.500 509" stroke="#222" stroke-width=".6"/>
<path class="p" style="stroke-width:1.200;fill:#bbb" d="M182 509.500L187 507L190.500 508.500L191 512L189 514.500L184.500 515L182 513Z"/>
</g>
<g id="p101">
<path class="p" style="stroke-width:1.400" d="M206.700 502.500L211.700 499.700L218.300 501.300L225 504.200L235 511.700L237.500 516.700L236.700 520.800L232.500 520L228.300 525L227.500 533.300L230.800 537.500L234.200 539.200L232.500 543.300L226.700 546.700L221.700 545L213.300 539.200L202.500 533.300L200 528.300L199.200 520L200.800 511.700Z"/>
<path class="pn" d="M207.500 504.500C204.500 509 203 516 203.500 523C204 528 205.500 532 208 535"/>
<path class="pn" d="M229.500 513.500C223 517 219.500 524 219.500 531C219.500 536 221.500 540.500 225 543.500" style="stroke-width:1.100"/>
<path class="pn" d="M233 515.500C227 519 223.500 525 223.500 532C223.500 536 225 539.500 228 542" style="stroke-width:1.100"/>
<path class="g" d="M226 512C220 515.500 216 523 216 531C216 535.500 217.500 539.500 220 542"/>
<path class="g" d="M222.500 510C216.500 514 213 521.500 213 529.500C213 534 214 537.500 216 540"/>
<path class="p" style="stroke-width:1.100" d="M207 502.500L211.700 499.700L213.500 501.500L213 505L209.500 506.500L207.300 505Z"/>
<circle cx="210.300" cy="503.200" r="1.200" class="pn"/>
<path class="pn" d="M213.500 501.500L225 505.500L226.500 509.500L213 505"/>
<path class="pn" d="M226.500 509.500L233 515.500"/>
<ellipse class="p" cx="230.500" cy="516.800" rx="1.600" ry="2.200" style="stroke-width:1"/>
<path class="pn" d="M221.700 545L222.500 541.500L227.500 543.500L232.500 541"/>
<ellipse class="pn" cx="227" cy="544.800" rx="1.500" ry="1"/>
</g>
<g id="p102">
<ellipse class="p" cx="74" cy="558.300" rx="9.300" ry="11.800" transform="rotate(25 74 558.3)" style="stroke-width:1.500"/>
<ellipse class="pn" cx="75.500" cy="558.700" rx="7.200" ry="9.800" transform="rotate(25 75.5 558.7)" style="stroke-width:1.200"/>
<ellipse class="pn" cx="76" cy="559" rx="5.300" ry="7.500" transform="rotate(25 76 559)" stroke="#555"/>
<ellipse class="p" cx="76.500" cy="559.200" rx="3.300" ry="5" transform="rotate(25 76.5 559.2)" style="stroke-width:1.200"/>
</g>
<g id="p104">
<ellipse class="p" cx="112.300" cy="580.700" rx="9" ry="11.500" transform="rotate(25 112.3 580.7)" style="stroke-width:1.400"/>
<ellipse class="p" cx="114.300" cy="581.500" rx="7.500" ry="10" transform="rotate(25 114.3 581.5)" style="stroke-width:1.200"/>
<ellipse class="pn" cx="114.800" cy="581.700" rx="5.300" ry="7.300" transform="rotate(25 114.8 581.7)" stroke="#444"/>
<ellipse class="p" cx="115.200" cy="581.900" rx="3.200" ry="4.700" transform="rotate(25 115.2 581.9)" style="stroke-width:1.200"/>
</g>
<g id="p105">
<ellipse class="p" cx="201" cy="631.700" rx="9" ry="11.500" transform="rotate(25 201 631.7)" style="stroke-width:1.400"/>
<ellipse class="p" cx="203" cy="632.500" rx="7.500" ry="10" transform="rotate(25 203 632.5)" style="stroke-width:1.200"/>
<ellipse class="pn" cx="203.500" cy="632.700" rx="5.300" ry="7.300" transform="rotate(25 203.5 632.7)" stroke="#444"/>
<ellipse class="p" cx="203.900" cy="632.900" rx="3.200" ry="4.700" transform="rotate(25 203.9 632.9)" style="stroke-width:1.200"/>
</g>
<g id="p103">
<!-- conrod -->
<path class="p" style="stroke-width:1.100" d="M170 604L175.500 602.500L189.700 597.200C191 595 193.500 594.500 196 595.500C199 596.500 200.300 600 199.500 603C198.500 606.500 195.500 607.500 192.500 606.500L190.500 604.700L178.500 609.200L176 612L170 611Z"/>
<ellipse class="p" cx="195" cy="601" rx="2.500" ry="3.300" transform="rotate(20 195 601)" style="stroke-width:1"/>
<path class="pn" d="M177 605L189 600.500M190.500 598C189.500 600 189.500 602.500 190.500 604.700"/>
<!-- right shaft -->
<path class="p" style="stroke-width:1.100" d="M167 608L178 613.500L179.500 614.500L189.500 620L187 626L177.500 621L175 621L164.500 615.500Z"/>
<path class="k" d="M184 617.500L189.500 620L187 626L181.500 623.500Z"/>
<path class="pn" d="M178 613.500L175 621"/>
<!-- web2 -->
<path class="p" style="stroke-width:1.200" d="M157 600C159 597.500 162.500 597.500 164.500 599L168 601.500C170.500 605 170.500 612 169 618C167.500 623 165.500 626 163 626.500L159.500 626C156 624 154.500 618 155 611C155.300 606 156 602 157 600Z"/>
<path class="pn" d="M164.500 599C162 602 160.500 608 160.500 614C160.500 620 161.500 624 163 626.500"/>
<!-- pin/big end -->
<path class="p" style="stroke-width:1" d="M166 602.500L171 600.500L175.500 602.500L176 609L171 611L168.500 610Z"/>
<!-- web1 -->
<path class="p" style="stroke-width:1.200" d="M146.500 597.500C148.500 595 152 595 154 596.500L157 599C159 603 159 610 157.500 615C156.500 619 155 621 152.500 621.500L149.500 621C146 619 144 613 144.500 607C144.800 602.500 145.500 599.500 146.500 597.500Z"/>
<path class="pn" d="M154 596.500C151.500 599.500 150 605 150 610.500C150 616 151 619.500 152.500 621.500"/>
<!-- left shaft -->
<path class="p" style="stroke-width:1.100" d="M129.700 588.200L145.500 597.200L144.500 603L129 593.500Z"/>
<path class="k" d="M125.500 586.500L129.700 588.200L129 593.500L125 591.500Z"/>
<path class="pn" d="M139 593.500L138 599"/>
</g>
<!--/F-->
<!--G-->
<g id="p107">
<path class="p" style="stroke-width:1.100;fill:#444" d="M260.500 596L263.500 594L269.500 596L271.500 598.500L270.500 603L267.500 604.500L262 602.500L260 600Z"/>
<ellipse cx="268.500" cy="600" rx="2.300" ry="3.300" transform="rotate(15 268.5 600)" style="fill:#888;stroke:#111;stroke-width:.8"/>
<path d="M261.500 597L265 598M261 599L264.500 600M261.500 601L265 602" stroke="#ccc" stroke-width=".6"/>
</g>
<g id="p109">
<ellipse class="p" cx="267" cy="670.800" rx="8.800" ry="10.800" transform="rotate(28 267 670.8)" style="stroke-width:1.500"/>
<path class="pn" d="M259 663C257 667 257 674 260 679" style="stroke-width:1.200"/>
<ellipse class="pn" cx="268.300" cy="671.200" rx="6.500" ry="8.300" transform="rotate(28 268.3 671.2)" stroke="#444"/>
<ellipse class="p" cx="269" cy="671.500" rx="4.200" ry="5.600" transform="rotate(28 269 671.5)" style="stroke-width:1.200"/>
<ellipse class="p" cx="269.300" cy="671.700" rx="2.300" ry="3.300" transform="rotate(28 269.3 671.7)" style="stroke-width:1.200;fill:#555"/>
</g>
<g id="p106">
<path class="pn" style="stroke-width:2" d="M316 599.500C313.500 598 310.500 599.500 310 602.500C309.500 605.500 312 607.500 314.800 606.300C317 605.200 317 603 315.300 602.300"/>
<path class="pn" style="stroke-width:1.300" d="M316.500 600L317.300 604.500M313 602.500L315.300 602.300"/>
</g>
<g id="p111">
<path class="pn" style="stroke-width:2" d="M383.500 638C381 636.500 378 638 377.500 641C377 644 379.500 646 382.300 644.800C384.500 643.700 384.500 641.500 382.800 640.800"/>
<path class="pn" style="stroke-width:1.300" d="M384 638.500L384.800 643M380.500 641L382.800 640.800"/>
</g>
<g id="p112">
<ellipse class="p" cx="366.900" cy="607.200" rx="9.200" ry="12.600" transform="rotate(-16 366.900 607.200)" style="stroke-width:1.100"/>
<ellipse class="p" cx="366.900" cy="607.200" rx="7.700" ry="11.100" transform="rotate(-16 366.900 607.200)" style="stroke-width:1"/>
</g>
<g id="p110">
<path class="p" style="stroke-width:1.200" d="M354 625C355.500 623.500 357.500 623.800 358.800 624.800L371.500 631.500C372.800 633 372.500 636 371 637.500C369.500 638.800 368 638.500 367 638L354 631.200C352.800 629.800 353 626.500 354 625Z"/>
<ellipse class="pn" cx="370.300" cy="635" rx="1.800" ry="3" transform="rotate(28 370.3 635)"/>
</g>
<g id="p108">
<path class="p" style="stroke-width:1.300" d="M331.500 602.800C335 601 339 600.300 342.500 600.500C346.500 601 349.500 603 351 606C352.500 610 352 616 349.500 620.500C347.500 623.500 344.500 625.500 341 626.500L328 630Z"/>
<path class="pn" d="M345 601.500C348.500 604 350 609 349 615C348.200 619.500 346 623 343 625.200" style="stroke-width:1"/>
<path class="pn" d="M347.500 602.800C350.500 606 351.500 611 350.300 616.500C349.500 620 347.500 623 345 624.500" style="stroke-width:.9"/>
<path class="pn" d="M342.500 600.800C346 603.500 347.500 609 346.500 615.500C345.700 620 343.500 624 340.500 626.200" style="stroke-width:.8;stroke:#444"/>
<ellipse class="p" cx="329.700" cy="616.200" rx="9.600" ry="13.600" transform="rotate(14 329.700 616.200)" style="stroke-width:1.500"/>
<ellipse class="pn" cx="330.800" cy="616.300" rx="7.800" ry="11.800" transform="rotate(14 330.800 616.300)" style="stroke-width:.9"/>
<path class="pn" d="M320 617.500L335 617.700M321 620.500L333 621.500" style="stroke-width:1"/>
<path class="pn" d="M329.700 605C331 608 331.500 611 331.200 614.500M326 608C328 610 329 613 329 616" style="stroke-width:.9"/>
<path class="pn" d="M333 621.500C334.500 624.500 336.500 626 338.500 625.500" style="stroke-width:.9"/>
<ellipse class="p" cx="337" cy="620" rx="1.400" ry="2.400" transform="rotate(20 337 620)" style="stroke-width:1"/>
<ellipse class="p" cx="341.500" cy="618.300" rx="1.300" ry="2.300" transform="rotate(20 341.500 618.300)" style="stroke-width:1"/>
<path class="k" d="M327 612.500L329.500 611L331 614L328.500 615.500ZM332.500 612L334.500 613.500L333.500 616L331.800 614.800Z"/>
<path class="p" style="stroke-width:1.100" d="M319 615.500L321.500 615.500L321.500 619.500L319.300 619.500Z"/>
</g>
<g id="p113">
<!-- fins -->
<path class="p" style="stroke-width:1.200" d="M432.500 562C436 558.500 441 558.500 445 560L458 566.500C462 569 464.500 574 464.500 580L463.500 600C463 606 460 610.500 456.500 612L440 618L432.500 616Z"/>
<g class="pn" style="stroke-width:.9">
<path d="M436 561C440 561.500 441 566 441 572L440.500 616.500"/>
<path d="M439.500 560.500C444 562 445 567 445 573L444.500 615.500"/>
<path d="M443 561C447.500 563 448.500 568 448.500 574L448 614.500"/>
<path d="M447 562.500C451 565 452 570 452 576L451.500 613.500"/>
<path d="M451 564.500C454.500 567 455.500 572 455.500 578L455 612.500"/>
<path d="M454.500 566.500C458 569.500 459 574 459 580L458.500 610.500"/>
<path d="M458 568.500C461 572 462 576 462 582L461.500 606"/>
<path d="M434 562.500C437 564 437.500 568 437.500 573L437 617"/>
</g>
<g class="pn" style="stroke-width:.7">
<path d="M437.800 560.700C442 561.700 443 566.500 443 572.500L442.500 616"/>
<path d="M441.300 560.700C445.800 562.500 446.800 567.500 446.800 573.500L446.300 615"/>
<path d="M445 561.700C449.300 564 450.300 569 450.300 575L449.800 614"/>
<path d="M449 563.500C452.800 566 453.800 571 453.800 577L453.300 613"/>
<path d="M452.800 565.500C456.300 568.200 457.300 573 457.300 579L456.800 611.500"/>
<path d="M456.300 567.500C459.500 570.700 460.500 575 460.500 581L460 608.500"/>
<path d="M459.500 570C462.300 573.500 463.200 577.500 463.200 583L462.700 603"/>
</g>
<!-- top block -->
<path class="p" style="stroke-width:1.100" d="M427 562L433 558L440 561L446 565L448 569L444 572.500L437 570L430 574L426 570Z"/>
<path class="k" d="M436 566L441 564.500L446 567.500L447 571L443 572.500L438 570Z"/>
<path class="pn" d="M415 565.500L421 561L427 562M418 568L423.500 564L430 566M421 570.500L426 566.500"/>
<!-- body under -->
<path class="p" style="stroke-width:1.100" d="M424.200 595L432.500 590L432.500 616L425 620L416.700 618Z"/>
<!-- upper block -->
<path class="p" style="stroke-width:1.200" d="M401.700 564.200L407.500 561.700L414.200 565L425 574.200L428.300 578.300L428 586L424 589L415 582.500L415 578.300L401.700 571.700Z"/>
<path class="pn" d="M401.700 567.500L415 574.500L426.500 584M407.500 561.700L407.500 565.500M415 574.500L415 578.300"/>
<path class="k" d="M416 577L424 582L427 586L426 589L418 584Z"/>
<!-- flange -->
<path class="p" style="stroke-width:1.300" d="M390.800 575.800L397.500 573L402.500 575.800L413.300 582.500L423.300 585.800L424.200 595L423.300 605L416.700 611.700L410.800 618.300L406.700 618.300L391.700 609.200L385.800 604.200L385.800 600L393.300 593.300L395.800 585L391.700 580.800Z"/>
<path class="p" style="stroke-width:1.100" d="M397 586.500L400.500 582.500L411 588L419 591L419.500 598L418 605L410.500 613L398 606L391 601.500L397 595Z"/>
<path class="pn" d="M400.500 582.500L400 590L395 597.500L393 602.500M400 590L409.500 595L416.500 597.500L419.500 598M409.500 595L408 603L402 608.500"/>
<path class="k" d="M403 597L408 599L406.500 604L401.500 607L398.500 604.500Z"/>
<path class="pn" style="stroke-width:1.300" d="M408 611C411 611.500 415.500 609 418 605C420.500 601 421 596 420 592"/>
<circle cx="394" cy="577.500" r="1.200" class="pn"/>
<circle cx="420.500" cy="588.500" r="1.200" class="pn"/>
<circle cx="389" cy="602.500" r="1.200" class="pn"/>
<circle cx="409.500" cy="615.500" r="1.200" class="pn"/>
<path class="p" style="stroke-width:1" d="M413 615.500L419 614.500L421 618L417 621L412.500 619.500Z"/>
<ellipse class="p" cx="437" cy="616.500" rx="2" ry="1.800" style="stroke-width:1"/>
<ellipse class="p" cx="456.500" cy="603.500" rx="1.800" ry="2" style="stroke-width:1"/>
</g>
<!--/G-->
<!--H-->
<g id="p114">
<path class="p" style="stroke-width:1.9" d="M210.7 790.9L208.7 789.5L206.9 787.9L205.2 786.0L203.7 783.9L202.3 781.5L201.2 778.9L200.3 776.2L199.7 773.3L199.2 770.3L199.0 767.3L199.1 764.1L199.3 760.9L199.8 757.7L200.5 754.5L201.5 751.4L202.6 748.3L204.0 745.4L205.6 742.6L207.3 739.9L209.2 737.4L211.2 735.2L213.4 733.1L215.6 731.4L218.0 729.8L220.4 728.6L222.8 727.6L225.3 727.0L227.7 726.6L230.1 726.6L232.5 726.9L234.8 727.4L237.0 728.3L239.1 729.5L241.1 730.9L242.9 732.6L244.5 734.6L246.0 736.8L247.2 739.2L248.3 741.8L249.1 744.5L248.9 747.0L248.2 744.6L247.3 742.3L246.2 740.1L244.9 738.2L243.4 736.4L241.8 734.9L240.1 733.6L238.2 732.6L236.3 731.9L234.2 731.3L232.1 731.1L230.0 731.2L227.8 731.5L225.6 732.0L223.5 732.9L221.3 734.0L219.3 735.3L217.3 736.9L215.4 738.7L213.6 740.7L211.9 742.9L210.4 745.2L209.0 747.7L207.8 750.3L206.8 753.1L205.9 755.8L205.3 758.7L204.8 761.5L204.6 764.3L204.6 767.1L204.8 769.9L205.1 772.5L205.7 775.1L206.5 777.5L207.5 779.7L208.7 781.8L210.0 783.7L211.5 785.4L213.1 786.8L214.9 788.1Z"/>
<path d="M244.8 766.1L243.2 770.2L241.2 774.0L238.7 777.5L235.9 780.4L232.8 782.7L229.6 784.4L226.3 785.3L223.0 785.5L219.8 784.9L216.9 783.6L214.3 781.6L212.1 779.0L210.3 775.8L209.1 772.2L208.4 768.2L208.2 764.0L208.7 759.6L209.7 755.3L211.3 751.2L213.3 747.4L215.8 743.9L218.6 741.0L221.7 738.7L224.9 737.0L228.2 736.1L231.5 735.9L234.7 736.5L237.6 737.8L240.2 739.8L242.4 742.4L244.2 745.6L245.4 749.2L246.1 753.2L246.3 757.4L245.8 761.8Z M236.2 763.4L235.4 765.6L234.4 767.5L233.1 769.3L231.7 770.8L230.1 772.0L228.5 772.8L226.8 773.3L225.1 773.4L223.4 773.1L221.9 772.5L220.6 771.4L219.5 770.1L218.6 768.5L217.9 766.6L217.6 764.5L217.5 762.4L217.7 760.2L218.3 758.0L219.1 755.8L220.1 753.9L221.4 752.1L222.8 750.6L224.4 749.4L226.0 748.6L227.7 748.1L229.4 748.0L231.1 748.3L232.6 748.9L233.9 750.0L235.0 751.3L235.9 752.9L236.6 754.8L236.9 756.9L237.0 759.0L236.8 761.2Z" fill="#222" fill-rule="evenodd"/>
<path class="k"  d="M218.6 756.6L205.5 750.8L207.2 747.0L219.3 755.0Z"/>
<path class="p" style="stroke-width:1" d="M205.5 750.8L207.2 747.0L215.3 749.4L213.6 753.1Z"/>
<path class="p" style="stroke-width:1" d="M213.6 753.1L215.3 749.4L225.7 756.7L225.0 758.3Z"/>
<path class="p" style="stroke-width:1.1" d="M218.6 756.6L205.5 750.8L213.6 753.1L225.0 758.3Z"/>
<path class="k"  d="M217.4 762.5L202.6 764.6L203.0 760.5L217.5 760.8Z"/>
<path class="p" style="stroke-width:1" d="M202.6 764.6L203.0 760.5L211.2 762.5L210.8 766.5Z"/>
<path class="p" style="stroke-width:1" d="M210.8 766.5L211.2 762.5L223.9 762.5L223.8 764.2Z"/>
<path class="p" style="stroke-width:1.1" d="M217.4 762.5L202.6 764.6L210.8 766.5L223.8 764.2Z"/>
<path class="k"  d="M221.7 751.5L212.6 738.9L215.2 736.1L222.8 750.4Z"/>
<path class="p" style="stroke-width:1" d="M212.6 738.9L215.2 736.1L223.0 738.9L220.5 741.5Z"/>
<path class="p" style="stroke-width:1" d="M220.5 741.5L223.0 738.9L229.2 752.1L228.0 753.2Z"/>
<path class="p" style="stroke-width:1.1" d="M221.7 751.5L212.6 738.9L220.5 741.5L228.0 753.2Z"/>
<path class="k"  d="M218.2 768.1L204.5 777.6L203.4 774.1L217.7 766.6Z"/>
<path class="p" style="stroke-width:1" d="M204.5 777.6L203.4 774.1L211.6 775.7L212.6 779.1Z"/>
<path class="p" style="stroke-width:1" d="M212.6 779.1L211.6 775.7L224.1 768.3L224.6 769.8Z"/>
<path class="p" style="stroke-width:1.1" d="M218.2 768.1L204.5 777.6L212.6 779.1L224.6 769.8Z"/>
<path class="k"  d="M225.9 748.3L222.4 731.3L225.5 730.1L227.2 747.8Z"/>
<path class="p" style="stroke-width:1" d="M222.4 731.3L225.5 730.1L233.0 733.0L230.0 734.1Z"/>
<path class="p" style="stroke-width:1" d="M230.0 734.1L233.0 733.0L233.6 749.5L232.2 750.0Z"/>
<path class="p" style="stroke-width:1.1" d="M225.9 748.3L222.4 731.3L230.0 734.1L232.2 750.0Z"/>
<path class="k"  d="M220.8 772.3L210.7 787.2L208.5 784.9L219.9 771.3Z"/>
<path class="p" style="stroke-width:1" d="M210.7 787.2L208.5 784.9L216.5 786.2L218.6 788.4Z"/>
<path class="p" style="stroke-width:1" d="M218.6 788.4L216.5 786.2L226.3 773.0L227.2 774.0Z"/>
<path class="p" style="stroke-width:1.1" d="M220.8 772.3L210.7 787.2L218.6 788.4L227.2 774.0Z"/>
<path class="k"  d="M230.4 747.5L233.0 729.4L235.9 730.1L231.7 747.8Z"/>
<path class="p" style="stroke-width:1" d="M233.0 729.4L235.9 730.1L243.2 733.0L240.3 732.4Z"/>
<path class="p" style="stroke-width:1" d="M240.3 732.4L243.2 733.0L238.0 749.5L236.8 749.2Z"/>
<path class="p" style="stroke-width:1.1" d="M230.4 747.5L233.0 729.4L240.3 732.4L236.8 749.2Z"/>
<path class="k"  d="M224.8 774.1L220.0 791.6L217.1 790.9L223.6 773.8Z"/>
<path class="p" style="stroke-width:1" d="M220.0 791.6L217.1 790.9L224.8 792.0L227.7 792.6Z"/>
<path class="p" style="stroke-width:1" d="M227.7 792.6L224.8 792.0L230.0 775.5L231.2 775.8Z"/>
<path class="p" style="stroke-width:1.1" d="M224.8 774.1L220.0 791.6L227.7 792.6L231.2 775.8Z"/>
<path class="k"  d="M234.4 749.3L242.3 733.8L244.5 736.1L235.4 750.3Z"/>
<path class="p" style="stroke-width:1" d="M242.3 733.8L244.5 736.1L251.5 738.8L249.4 736.6Z"/>
<path class="p" style="stroke-width:1" d="M249.4 736.6L251.5 738.8L241.7 752.0L240.8 751.0Z"/>
<path class="p" style="stroke-width:1.1" d="M234.4 749.3L242.3 733.8L249.4 736.6L240.8 751.0Z"/>
<path class="k"  d="M229.4 773.3L230.6 789.7L227.5 790.9L228.1 773.8Z"/>
<path class="p" style="stroke-width:1" d="M230.6 789.7L227.5 790.9L235.0 792.0L238.0 790.9Z"/>
<path class="p" style="stroke-width:1" d="M238.0 790.9L235.0 792.0L234.4 775.5L235.8 775.0Z"/>
<path class="p" style="stroke-width:1.1" d="M229.4 773.3L230.6 789.7L238.0 790.9L235.8 775.0Z"/>
<path class="k"  d="M237.1 753.5L248.5 743.4L249.6 746.9L237.5 755.0Z"/>
<path class="p" style="stroke-width:1" d="M248.5 743.4L249.6 746.9L256.4 749.3L255.4 745.9Z"/>
<path class="p" style="stroke-width:1" d="M255.4 745.9L256.4 749.3L243.9 756.7L243.4 755.2Z"/>
<path class="p" style="stroke-width:1.1" d="M237.1 753.5L248.5 743.4L255.4 745.9L243.4 755.2Z"/>
<path class="k"  d="M233.6 770.1L240.4 782.1L237.8 784.9L232.5 771.2Z"/>
<path class="p" style="stroke-width:1" d="M240.4 782.1L237.8 784.9L245.0 786.1L247.5 783.5Z"/>
<path class="p" style="stroke-width:1" d="M247.5 783.5L245.0 786.1L238.8 772.9L240.0 771.8Z"/>
<path class="p" style="stroke-width:1.1" d="M233.6 770.1L240.4 782.1L247.5 783.5L240.0 771.8Z"/>
<path class="k"  d="M237.9 759.1L250.4 756.4L250.0 760.5L237.7 760.8Z"/>
<path class="p" style="stroke-width:1" d="M250.4 756.4L250.0 760.5L256.8 762.5L257.2 758.5Z"/>
<path class="p" style="stroke-width:1" d="M257.2 758.5L256.8 762.5L244.1 762.5L244.2 760.8Z"/>
<path class="p" style="stroke-width:1.1" d="M237.9 759.1L250.4 756.4L257.2 758.5L244.2 760.8Z"/>
<path class="k"  d="M236.6 765.0L247.5 770.2L245.8 774.0L235.9 766.6Z"/>
<path class="p" style="stroke-width:1" d="M247.5 770.2L245.8 774.0L252.7 775.6L254.4 771.9Z"/>
<path class="p" style="stroke-width:1" d="M254.4 771.9L252.7 775.6L242.3 768.3L243.0 766.7Z"/>
<path class="p" style="stroke-width:1.1" d="M236.6 765.0L247.5 770.2L254.4 771.9L243.0 766.7Z"/>
<ellipse class="p" cx="231.5" cy="760" rx="8" ry="11" transform="rotate(17 231.5 760)" style="stroke-width:1.1"/>
<ellipse class="p" cx="229" cy="757.800" rx="1.800" ry="2.400" style="stroke-width:1.100;fill:#555"/>
<path class="pn" d="M233.5 755.500L237 756.500M233 758.500L236.500 759.500M232.500 761.500L236 762.500M232 764.500L235.500 765.500" style="stroke-width:1"/>
</g>
<g id="p115">
<ellipse class="pn" cx="267" cy="761" rx="5.500" ry="6.500" transform="rotate(15 267 761)" style="stroke-width:1.200"/>
<ellipse class="pn" cx="267.500" cy="761.300" rx="4" ry="5" transform="rotate(15 267.5 761.3)"/>
<ellipse class="pn" cx="268" cy="761.600" rx="2.500" ry="3.500" transform="rotate(15 268 761.6)"/>
<path class="pn" d="M266 767.500L263 775.500" style="stroke-width:1.200"/>
</g>
<g id="p116">
<path class="p" style="stroke-width:1.200" d="M274 766L278 764L282 763L284 765L285 769L287 773L289 776L288 778.500L285 779L282 777L280 773L278.500 770L275 769Z"/>
<circle cx="280" cy="767.500" r="1.300" class="pn"/>
<path class="pn" d="M282 763L281 766.500M285 769L283 772"/>
</g>
<g id="p117">
<path class="p" style="stroke-width:1;fill:#555" d="M294 776L299.500 778L298.500 781L293.500 779Z"/>
<ellipse class="p" cx="302" cy="780.300" rx="2.600" ry="3.300" transform="rotate(20 302 780.3)" style="stroke-width:1.200"/>
<path class="pn" d="M300.500 779L303.500 781.500"/>
</g>
<g id="p118" transform="translate(.5 -1)">
<path class="pn" style="stroke-width:2.300" d="M297.500 794.500C296 792.500 293 793 292 795.500C291 798 292 800.500 294 801C296 801.500 297.500 800 298 799"/>
<path class="pn" style="stroke-width:1.100" d="M296.500 796C295.500 795.500 294.500 796.500 294.500 797.500C294.500 798.500 295.500 799 296.500 798.500"/>
</g>
<g id="p119" transform="translate(0 -1.500)">
<path class="p" style="stroke-width:1.400" d="M305 802L309 799.500L314.500 800.500L317 804.500L316 809.500L311.500 812L306 811L304 806.500Z"/>
<path class="k" d="M308 802.500L313 802L315.500 805.500L314.500 809L310 810.500L306.500 808.500L306 805Z"/>
<ellipse cx="311" cy="806" rx="2" ry="2.500" fill="#fff"/>
<path class="pn" d="M310 804.500L312 807.500M312.500 804.500L310 807.500" style="stroke-width:.7"/>
</g>
<g id="ghost" stroke="#7a7a7a" fill="none" stroke-width=".9" stroke-linecap="round" stroke-linejoin="round">
<ellipse cx="249" cy="789" rx="5" ry="6" transform="rotate(15 249 789)"/>
<ellipse cx="249.500" cy="789.300" rx="3.500" ry="4.500" transform="rotate(15 249.5 789.3)"/>
<ellipse cx="250" cy="789.600" rx="2" ry="3" transform="rotate(15 250 789.6)"/>
<path d="M248 795.500L244 803"/>
<path d="M260.500 791L264 789.500L267 791L268 796L270 798L269 801L265 801.500L262 799L261.500 795Z"/>
<path d="M262 794.500L266 793.500L267.500 796.500M263 799C265 797.500 267.500 797.500 269 799"/>
<path d="M276.500 806L281 808L280 811L276 809Z" stroke="#777"/>
<ellipse cx="283.500" cy="809.500" rx="2.600" ry="3.200" transform="rotate(20 283.5 809.5)" stroke="#666" stroke-width="1"/>
</g>
<g id="p120">
<path class="p" style="stroke-width:1.200;fill:#aaa" d="M455.500 798.500L458.500 796.500L462 797.500L463 801L461.500 804L458 804.500L455.500 802.500Z"/>
<ellipse class="p" cx="460.300" cy="800.800" rx="2.200" ry="2.800" transform="rotate(15 460.3 800.8)" style="stroke-width:1"/>
</g>
<g id="p121">
<!-- balloon outline -->
<path class="pn" style="stroke-width:1.100" d="M474 774C470 777 468.500 781 468 784L463 803L456 818C455 822 456.500 825 459 825.500L463 827C465 827 466.500 826 468 825L480 814L500 803C515 795.500 535 789 550 782.500C560 777 571 768 576 762.500C580 758 581.500 755 581 752.500C579 746 574 741 572.500 740C562 732 555 728.500 547.500 725C540 720 530 713.500 522.500 711.200C515 709.500 508 709.500 502.500 710.500C493 712 483 718 478.700 723.700C477 727 478 731 480 732.500C486 735 494 736 500 737.500C505 739 509 740.500 511 742.500C513 745 513.500 748 512.500 750C511 753.500 508 756 505 757.500C496 762 486 765.500 477.500 768.700C474 771 472.500 776 471 780"/>
<!-- legs -->
<path class="pn" style="stroke-width:1" d="M469 805L461 820.500C460.500 822 461.500 823 463 822.500L475 810"/>
<!-- coil box -->
<path class="p" style="stroke-width:1.200" d="M477 775L488 771L500 773L502 777L500 784L495 801L484 805L474 800L473 786Z"/>
<path class="pn" d="M477 775L490 780L502 777M490 780L484 805"/>
<path class="p" style="stroke-width:1" d="M475 787L480 789L479.500 794L474.700 792Z"/>
<path class="pn" d="M484 805L486 808L492 806.500L495 801M487 803.500L492.500 802"/>
<circle cx="476" cy="808" r="1.300" class="pn"/>
<path class="p" style="stroke-width:1.100" d="M500 772.500L505.500 771.500L507 774L506 777.500L502 778Z"/>
<!-- cable -->
<path class="pn" style="stroke-width:1" d="M506 772.500C520 770.500 535 769.500 545 766C555 762 565 757 569.500 752C571 749 566 745 559 741.500"/>
<path class="pn" style="stroke-width:1" d="M506.500 776C520 774 536 772.500 546 769C557 765 568 759 572.500 754C575 749.500 569 743.500 561.500 739.500"/>
<path class="pn" d="M559 741.500L561.500 739.500"/>
</g>
<g id="p122">
<path class="p" style="stroke-width:1.100" d="M486 814.500L495.500 819.500L494 822.500L484.800 817.500Z"/>
<ellipse class="p" cx="497.800" cy="822" rx="2.800" ry="3.600" transform="rotate(25 497.8 822)" style="stroke-width:1.300"/>
<ellipse class="pn" cx="498.300" cy="822.300" rx="1.300" ry="1.800" transform="rotate(25 498.3 822.3)"/>
</g>
<g id="p123">
<path class="p" style="stroke-width:1.100" d="M482.500 751.500L484.500 748.500L488 747.500L491.700 747L491.700 745.500L497.500 744.500L498 746L505.800 745L507 746.500L510 746.200L510.300 748L507.300 749.500L506 751.500L498.500 753.500L498 755L492.500 756.500L492 755L488.500 756.500L485 756.500L483 755Z"/>
<path class="k" d="M491.700 745.500L497.500 744.500L498 755L492.500 756.500Z"/>
<path d="M493.500 746.500L493.800 755M495.500 746.200L495.800 754.500" stroke="#bbb" stroke-width=".6"/>
<path class="k" d="M498.500 746.200L505.500 745.300L506 751.300L498.800 753.200Z" style="fill:#555"/>
<path d="M500 746.300L500.300 752.500M501.800 746L502.100 752M503.600 745.800L503.900 751.600" stroke="#ddd" stroke-width=".5"/>
<path class="pn" d="M488 747.500L488.500 756.500M484.500 748.500L485 756.500" style="stroke-width:.8"/>
<path class="k" d="M481.500 751L483 750.500L483.500 754.500L482 755Z"/>
</g>
<g id="p124">
<path class="p" style="stroke-width:1;fill:#777" d="M516 742L519 740.500L522 741.500L522.500 745L520 747L517 746.500Z"/>
<path d="M517.500 742L518 746M519.500 741.500L520 746.500" stroke="#111" stroke-width=".6"/>
<path class="pn" d="M524 745.500L527 745.500M526 744.500L527 745.500L526 746.500" style="stroke-width:.7"/>
</g>
<g id="p125">
<path class="p" style="stroke-width:1.200" d="M531 736C531.500 733.500 534 732.500 536.500 733L541 733.500L545 735.500L549 737L555 738.500L556.500 741L555.500 744L553 745L548 743.500L543 743.500L539 745C536 745.500 532.500 744 531.500 741.500Z"/>
<ellipse class="p" cx="534.800" cy="739" rx="2.800" ry="4" transform="rotate(10 534.8 739)" style="stroke-width:1"/>
<path class="pn" d="M541 733.500L543 743.500M549 737L548 743.500"/>
<ellipse class="pn" cx="555" cy="741.500" rx="1.300" ry="2.500" transform="rotate(15 555 741.5)"/>
</g>
<!--/H-->

<!--WM-->
<g style="mix-blend-mode:multiply;isolation:isolate" transform="translate(85 0) scale(1.05 1)" font-family="Liberation Sans, sans-serif" font-weight="bold" font-style="italic" font-size="97" stroke-linejoin="round">
<text x="0" y="425" fill="#dcdcdc" stroke="#dcdcdc" stroke-width="9">pogos<tspan dx="-10">.</tspan><tspan dx="-2">r</tspan><tspan dx="7">u</tspan></text>
<text x="0" y="425" fill="#fff" stroke="#fff" stroke-width="5.800">pogos<tspan dx="-10">.</tspan><tspan dx="-2">r</tspan><tspan dx="7">u</tspan></text>
</g>
</svg>
</body></html>
